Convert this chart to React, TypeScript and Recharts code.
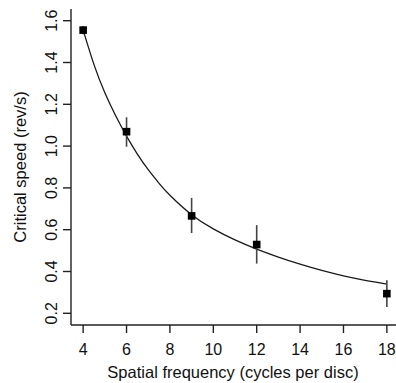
import React from 'react';
import { ComposedChart, Line, Scatter, XAxis, YAxis, ErrorBar, Label } from 'recharts';

const freqs = [4, 6, 9, 12, 18];
const speeds = [1.555, 1.069, 0.666, 0.529, 0.294];
const errLow = [0.02, 0.072, 0.082, 0.091, 0.064];
const errHigh = [0.02, 0.069, 0.086, 0.093, 0.064];

const curveX = [4, 4.5, 5, 5.5, 6, 6.5, 7, 7.5, 8, 9, 10, 11, 12, 13, 14, 15, 16, 17, 18];
const curveY = [1.555, 1.39, 1.255, 1.145, 1.048, 0.962, 0.887, 0.822, 0.765, 0.672, 0.604, 0.551, 0.507, 0.469, 0.435, 0.405, 0.379, 0.358, 0.34];

const xTicks = [4, 6, 8, 10, 12, 14, 16, 18];
const yTicks = [0.2, 0.4, 0.6, 0.8, 1.0, 1.2, 1.4, 1.6];

const xTitle = 'Spatial frequency (cycles per disc)';
const yTitle = 'Critical speed (rev/s)';

const points = freqs.map((f, i) => ({ x: f, y: speeds[i], err: [errLow[i], errHigh[i]] }));
const curve = curveX.map((f, i) => ({ x: f, y: curveY[i] }));

const FONT = '"Liberation Sans", Arial, Helvetica, sans-serif';

const XTick = (props: any) => {
  const { x, payload } = props;
  return (
    <text x={x} y={355} textAnchor="middle" fontSize={16} fontFamily={FONT} fill="#111">
      {payload.value}
    </text>
  );
};

const YTick = (props: any) => {
  const { y, payload } = props;
  const lx = 57;
  return (
    <text x={lx} y={y} transform={`rotate(-90, ${lx}, ${y})`} textAnchor="middle" fontSize={16} fontFamily={FONT} fill="#111">
      {Number(payload.value).toFixed(1)}
    </text>
  );
};

const Square = (props: any) => {
  const { cx, cy } = props;
  return <rect x={cx - 3.8} y={cy - 3.8} width={7.6} height={7.6} fill="#000" />;
};

export default function App() {
  return (
    <div style={{ position: 'fixed', left: 0, top: 0, width: 396, height: 383, overflow: 'hidden', background: '#fff' }}>
      <ComposedChart width={399} height={383} margin={{ top: 9, right: 0, bottom: 0, left: 0 }}>
        <XAxis
          dataKey="x"
          type="number"
          domain={[3.44, 18.56]}
          ticks={xTicks}
          allowDataOverflow
          height={58}
          tickSize={8}
          tick={<XTick />}
          stroke="#222"
          strokeWidth={1.4}
        >
          <Label
            content={() => (
              <text x={233} y={378} textAnchor="middle" fontSize={16.5} fontFamily={FONT} fill="#111">
                {xTitle}
              </text>
            )}
          />
        </XAxis>
        <XAxis
          xAxisId="top"
          orientation="top"
          dataKey="x"
          type="number"
          domain={[3.44, 18.56]}
          height={0}
          tick={false}
          tickLine={false}
          stroke="#111"
          strokeWidth={1.6}
        />
        <YAxis
          dataKey="y"
          type="number"
          domain={[0.144, 1.656]}
          ticks={yTicks}
          allowDataOverflow
          width={71}
          tickSize={8}
          tick={<YTick />}
          stroke="#222"
          strokeWidth={1.4}
        >
          <Label
            content={() => (
              <text x={26} y={167} transform="rotate(-90, 26, 167)" textAnchor="middle" fontSize={16.5} fontFamily={FONT} fill="#111">
                {yTitle}
              </text>
            )}
          />
        </YAxis>
        <Line
          data={curve}
          dataKey="y"
          type="natural"
          dot={false}
          activeDot={false}
          stroke="#1a1a1a"
          strokeWidth={1.3}
          isAnimationActive={false}
        />
        <Scatter data={points} dataKey="y" shape={<Square />} isAnimationActive={false}>
          <ErrorBar dataKey="err" width={0} stroke="#444" strokeWidth={1.6} direction="y" />
        </Scatter>
      </ComposedChart>
    </div>
  );
}
